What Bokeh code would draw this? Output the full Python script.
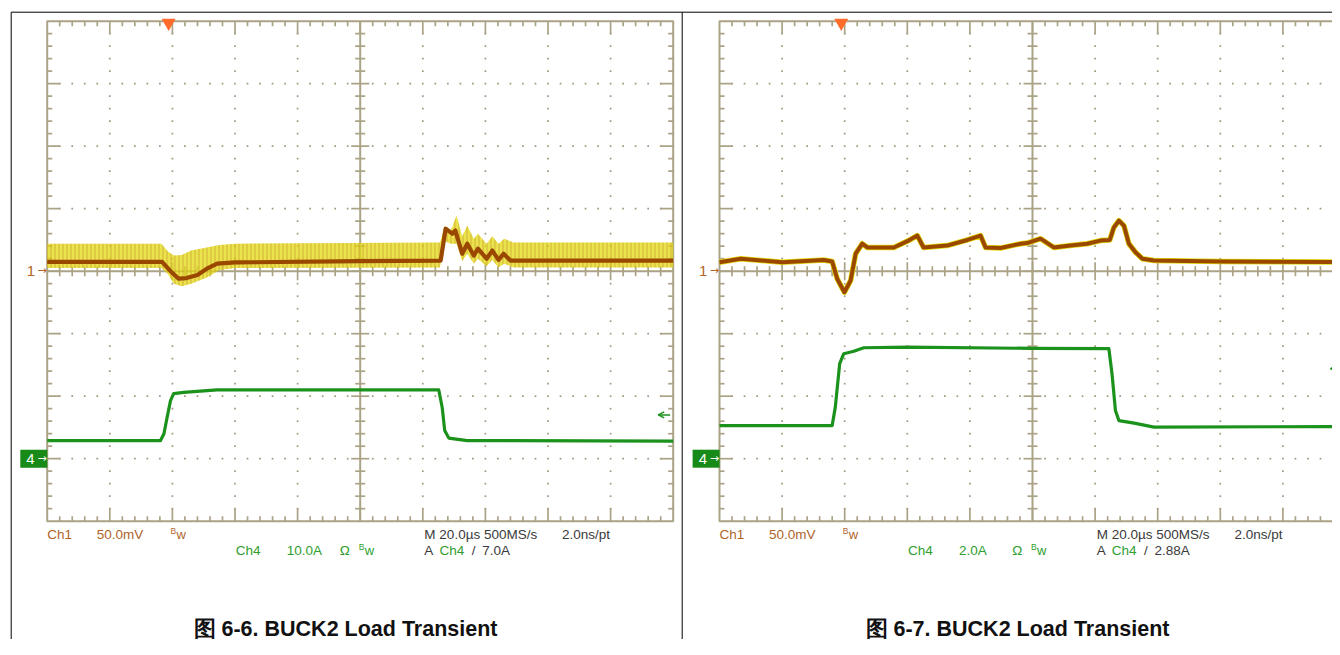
import numpy as np
from bokeh.plotting import figure
from bokeh.models import Range1d, Arrow, OpenHead
from bokeh.core.properties import value
from bokeh.embed import file_html
from bokeh.resources import INLINE

# ---------------- data ----------------
# time in us (20 us/div, 0..200), Ch1 in mV (50 mV/div), Ch4 in A
captions = ["图 6-6. BUCK2 Load Transient", "图 6-7. BUCK2 Load Transient"]
ch4_scale_labels = ["10.0A", "2.0A"]
ch4_scales = [10.0, 2.0]          # A/div
trig_levels = [7.0, 2.88]         # A
trig_level_labels = ["7.0A", "2.88A"]
trig_times = [38.8, 38.9]         # us (trigger marker)

# Fig 6-6 Ch1 (mean trace)
t66_ch1 = [0, 20, 36.7, 39.4, 42, 44.5, 48, 51, 54.3, 60, 100, 125.7, 127.3, 129.4,
           130.4, 132.6, 134.2, 136.3, 137.6, 140.4, 142.2, 144.2, 145.8, 148, 170, 200]
v66_ch1 = [7.5, 7.5, 7.5, 0, -6, -5.5, -3, 2, 6, 7, 8, 8.5, 34, 30,
           32.5, 14, 22, 12.5, 18, 10, 16.5, 9, 14, 8.5, 8.5, 8.5]
# Fig 6-6 Ch1 envelope (yellow band)
t66_env = [0, 36.5, 38.5, 40.5, 43, 46, 51, 55, 60, 125.5, 127, 129, 130.8, 132.6,
           134.2, 136.3, 137.6, 140.4, 142.2, 144.2, 146, 149, 200]
v66_hi = [22, 22, 16, 12.5, 13, 16.5, 19, 21, 22, 23, 36, 33, 44.5, 28,
          36.5, 26, 30, 22, 28, 22, 26, 23, 23]
v66_lo = [2.5, 2.5, -2, -10, -12, -10, -5, 1, 2.5, 3, 24, 22, 22, 8,
          14, 6, 10, 4, 9, 3, 6, 3, 3]
# Fig 6-6 Ch4
t66_ch4 = [0, 36.2, 37.3, 38.3, 39.4, 40.4, 43.6, 54.3, 125.1, 126.2, 127, 128.3, 134.2, 200]
a66_ch4 = [2.9, 2.9, 4.0, 6.6, 9.3, 10.4, 10.6, 11.0, 11.0, 8.2, 4.5, 3.3, 2.9, 2.8]

# Fig 6-7 Ch1
t67_ch1 = [0, 6.8, 20, 33.3, 36, 37.6, 39.9, 41.9, 43.5, 45.6, 47.2, 55.7, 60.4, 63.2, 65.2,
           72.7, 79.2, 83.4, 85, 89.8, 96.2, 98.3, 102.6, 106.8, 112.1, 117.5, 121.7,
           124.7, 126, 127.6, 129.2, 130.8, 132.9, 135.1, 138.8, 160.1, 200]
v67_ch1 = [7.2, 10, 7.2, 9, 7.8, -6, -16.8, -7.4, 14, 22, 19, 19, 24.5, 28.5, 19,
           20.5, 25, 28.5, 19, 18.5, 22, 22.5, 26, 19, 20.5, 22, 24.5,
           25, 35, 40.5, 36.5, 22, 15.2, 10, 8.5, 7.8, 7.2]
# Fig 6-7 Ch4
t67_ch4 = [0, 36, 37, 38.4, 39.7, 42.9, 46.1, 60, 100, 124.4, 125.4, 126.5, 127.6, 132.5, 138.8, 200]
a67_ch4 = [1.06, 1.06, 1.65, 3.04, 3.36, 3.44, 3.55, 3.57, 3.53, 3.52, 2.72, 1.54, 1.22, 1.14, 1.01, 1.03]

# ---------------- layout / style ----------------
W, H = 1332, 639
DIVX, DIVY = 62.6, 62.5
GX = [46.7, 719.0]              # grid left edge (px)
GYC = 20.7 + 4 * DIVY           # grid centre line (px)
PXT = DIVX / 20.0               # px per us
PXV = DIVY / 50.0               # px per mV
CAP_X = [345, 1017]
CAP_Y = 628

GRID = "#ABA386"
DOT = "#9F987E"
CH1C = "#9A4800"
YEL = "#E3DA10"
CH4C = "#1B921B"
TXT1 = "#B0642A"
TXT4 = "#2E9E2E"
BLK = "#3A3A3A"
FONT = value("Liberation Sans")
SYM = value("DejaVu Sans")

p = figure(width=W, height=H, x_range=Range1d(0, W), y_range=Range1d(H, 0),
           output_backend="svg", toolbar_location=None, min_border=0,
           x_axis_location=None, y_axis_location=None)
p.min_border_left = p.min_border_right = p.min_border_top = p.min_border_bottom = 0
p.grid.visible = False
p.outline_line_color = None
p.background_fill_color = "white"
p.border_fill_color = "white"

xr = {}
yr = {"v": Range1d((GYC - H) / PXV, GYC / PXV)}
for i in range(2):
    xr["t%d" % i] = Range1d(-GX[i] / PXT, (W - GX[i]) / PXT)
    k = DIVY / ch4_scales[i]
    g4 = GYC + 3 * DIVY
    yr["a%d" % i] = Range1d((g4 - H) / k, g4 / k)
p.extra_x_ranges = xr
p.extra_y_ranges = yr


def pv(ypx):
    return (GYC - ypx) / PXV


# outer borders
p.segment(x0=[10.7, 10.7, 681.7], y0=[11.7, 11.7, 11.7], x1=[1340, 10.7, 681.7], y1=[11.7, 660, 660],
          line_color="black", line_width=1)

p.text(x=CAP_X, y=[CAP_Y, CAP_Y], text=captions, text_align="center", text_baseline="middle",
       text_font=value("Liberation Sans"), text_font_style="bold", text_font_size="21.5px",
       text_color="#111111")

for i in range(2):
    kw = dict(x_range_name="t%d" % i, y_range_name="v")
    # dotted graticule
    xs, ys = [], []
    for t in range(20, 200, 20):
        if t == 100:
            continue
        for v in np.arange(-190, 191, 10):
            xs.append(t); ys.append(v)
    for v in (-150, -100, -50, 50, 100, 150):
        for t in np.arange(4, 197, 4):
            if t % 20 == 0:
                continue
            xs.append(t); ys.append(v)
    p.scatter(xs, ys, marker="square", size=1.7, fill_color=DOT, line_color=None, **kw)
    # frame and centre cross
    p.quad(left=0, right=200, bottom=-200, top=200, fill_color=None, line_color=GRID,
           line_width=2, **kw)
    p.segment(x0=[100, 0], y0=[-200, 0], x1=[100, 200], y1=[200, 0],
              line_color=GRID, line_width=2, **kw)
    # ticks
    x0, y0, x1, y1 = [], [], [], []
    for t in np.arange(4, 197, 4):
        major = abs(t % 20) < 1e-6
        le = (13 if major else 5) / PXV
        lc = (9 if major else 5) / PXV
        x0 += [t, t, t]; x1 += [t, t, t]
        y0 += [200, -200, -lc]; y1 += [200 - le, -200 + le, lc]
    for v in np.arange(-190, 191, 10):
        major = abs(v % 50) < 1e-6
        le = (13 if major else 5) / PXT
        lc = (9 if major else 5) / PXT
        y0 += [v, v, v]; y1 += [v, v, v]
        x0 += [0, 200, 100 - lc]; x1 += [le, 200 - le, 100 + lc]
    p.segment(x0=x0, y0=y0, x1=x1, y1=y1, line_color=GRID, line_width=1.7, **kw)

    # trigger position marker
    p.scatter([trig_times[i]], [pv(22.3)], marker="inverted_triangle", size=14,
              fill_color="#FF6B2B", line_color=None, **kw)

    # channel 1 ground marker
    p.text([-(46.7 - 34.5) / PXT], [0], text=["1"], text_align="right", text_baseline="middle",
           text_font=FONT, text_font_size="15px", text_color=TXT1, **kw)
    p.text([-(46.7 - 37) / PXT], [0.8], text=["→"], text_align="left", text_baseline="middle",
           text_font=SYM, text_font_size="11px", text_color=TXT1, **kw)

    # channel 4 ground marker box
    p.rect([-(46.7 - 33.3) / PXT], [-150], width=27, height=18, width_units="screen",
           height_units="screen", fill_color="#178A17", line_color=None, **kw)
    p.text([-(46.7 - 30) / PXT], [-150.5], text=["4"], text_align="center", text_baseline="middle",
           text_font=FONT, text_font_size="15px", text_color="white", **kw)
    p.text([-(46.7 - 37) / PXT], [-149.5], text=["→"], text_align="left", text_baseline="middle",
           text_font=SYM, text_font_size="11px", text_color="white", **kw)

    # read-out texts
    r1, r2 = pv(533.5), pv(549.5)
    tx = [0, 15.8, 120.5, 164.5, 60.2, 76.5, 93.5, 120.5, 125.3, 135.6, 139.0]
    ty = [r1, r1, r1, r1, r2, r2, r2, r2, r2, r2, r2]
    tt = ["Ch1", "50.0mV", "M 20.0µs 500MS/s", "2.0ns/pt", "Ch4", ch4_scale_labels[i], "Ω",
          "A", "Ch4", "/", trig_level_labels[i]]
    tc = [TXT1, TXT1, BLK, BLK, TXT4, TXT4, TXT4, BLK, TXT4, BLK, BLK]
    p.text(tx, ty, text=tt, text_color=tc, text_align="left", text_baseline="middle",
           text_font=FONT, text_font_size="13.5px", **kw)
    # "Bw" badges
    p.text([39.4, 99.5], [r1 + 3 / PXV, r2 + 3 / PXV], text=["B", "B"], text_color=[TXT1, TXT4],
           text_align="left", text_baseline="middle", text_font=FONT, text_font_size="8.5px", **kw)
    p.text([39.4 + 6 / PXT, 99.5 + 6 / PXT], [r1, r2], text=["w", "w"], text_color=[TXT1, TXT4],
           text_align="left", text_baseline="middle", text_font=FONT, text_font_size="13px", **kw)

# ---------------- waveforms ----------------
k0 = dict(x_range_name="t0", y_range_name="v")
k1 = dict(x_range_name="t1", y_range_name="v")
p.varea(x=t66_env, y1=v66_lo, y2=v66_hi, fill_color=YEL, fill_alpha=0.75,
        hatch_pattern="vertical_line", hatch_color="#C0862E", hatch_alpha=0.55,
        hatch_scale=4, hatch_weight=1, **k0)
p.line(t66_ch1, v66_ch1, line_color=CH1C, line_width=4.2, line_join="round", **k0)
p.line(t66_ch4, a66_ch4, line_color=CH4C, line_width=3.2, line_join="round",
       x_range_name="t0", y_range_name="a0")

p.line(t67_ch1, v67_ch1, line_color=YEL, line_width=5.5, line_join="round", **k1)
p.line(t67_ch1, v67_ch1, line_color=CH1C, line_width=4.0, line_join="round", **k1)
p.line(t67_ch4, a67_ch4, line_color=CH4C, line_width=3.2, line_join="round",
       x_range_name="t1", y_range_name="a1")

# trigger level arrows
for i in range(2):
    p.add_layout(Arrow(end=OpenHead(size=6, line_color=CH4C, line_width=1.5),
                       x_start=200 - 3 / PXT, y_start=trig_levels[i],
                       x_end=200 - 15 / PXT, y_end=trig_levels[i],
                       line_color=CH4C, line_width=1.5,
                       x_range_name="t%d" % i, y_range_name="a%d" % i))

open("out.html", "w").write(file_html(p, INLINE))
